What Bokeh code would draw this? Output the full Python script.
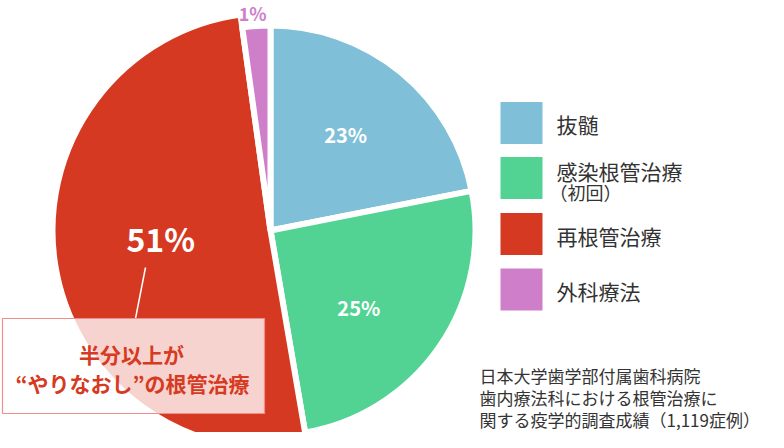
import numpy as np
from bokeh.plotting import figure
from bokeh.models import Range1d, ColumnDataSource
from bokeh.core.properties import value
from bokeh.embed import file_html
from bokeh.resources import INLINE

# ---- data ----
categories = ["抜髄", "感染根管治療", "再根管治療", "外科療法"]
category_sub = ["", "（初回）", "", ""]
shares = [21.9, 25.4, 50.5, 2.2]          # drawn share of the circle (%)
pct_labels = ["23%", "25%", "51%", "1%"]
colors = ["#7fbfd7", "#52d394", "#d63922", "#cf7fca"]
callout_lines = ["半分以上が", "“やりなおし”の根管治療"]
source_lines = ["日本大学歯学部付属歯科病院",
                "歯内療法科における根管治療に",
                "関する疫学的調査成績（1,119症例）"]

FONT = "Noto Sans CJK JP"
W, H = 768, 432


def Y(py):
    """picture pixel y -> data y"""
    return 448 - py


p = figure(width=W, height=H, output_backend="svg", toolbar_location=None,
           x_range=Range1d(0, W), y_range=Range1d(448 - H, 448),
           x_axis_location=None, y_axis_location=None, min_border=0,
           background_fill_color="white", border_fill_color="white")
p.outline_line_color = None
p.grid.visible = False

# ---- pie ----
cx, cy = 270, Y(230)
radii = [205, 205, 218, 205]
cum = np.concatenate([[0], np.cumsum(shares)]) * 3.6
t1, t2 = cum[:-1], cum[1:]
src = ColumnDataSource(dict(
    start=np.radians(90 - t2), end=np.radians(90 - t1), r=radii, color=colors,
))
p.wedge(x=cx, y=cy, radius="r", start_angle="start", end_angle="end",
        direction="anticlock", source=src,
        fill_color="color", line_color="white", line_width=6)

# leader line
p.line(x=[145, 135], y=[Y(267), Y(318)], line_color="white", line_width=1.5)

# callout box
p.quad(left=2, right=264, top=Y(318), bottom=Y(413),
       fill_color="white", fill_alpha=0.78, line_color="#ef8f8c", line_width=1.2)

# percentage labels
label_r = [122, 117, 110, 218]
label_t = np.radians([38, 131, 266, -4.7])
lx = cx + np.array(label_r) * np.sin(label_t)
ly = cy + np.array(label_r) * np.cos(label_t)
lab = ColumnDataSource(dict(
    x=lx, y=ly, text=pct_labels,
    size=["20px", "20px", "32px", "18px"],
    color=["white", "white", "white", colors[3]],
))
p.text(x="x", y="y", text="text", source=lab, text_font=value(FONT),
       text_font_size="size", text_color="color", text_font_style="bold",
       text_align="center", text_baseline="middle")

# callout text
p.text(x=[131, 132], y=[Y(353), Y(382)], text=callout_lines,
       text_font=value(FONT), text_font_size="21px", text_font_style="bold",
       text_color="#d63a22", text_align="center", text_baseline="middle")

# legend
sq_y = [122.5, 177.5, 233.5, 289]
p.rect(x=521, y=[Y(v) for v in sq_y], width=42, height=42,
       fill_color=colors, line_color=None)
txt_y = [123, 170, 235, 290]
p.text(x=556, y=[Y(v) for v in txt_y], text=categories,
       text_font=value(FONT), text_font_size="21px", text_color="#333333",
       text_align="left", text_baseline="middle")
sub_idx = [i for i, s in enumerate(category_sub) if s]
p.text(x=549, y=[Y(191) for _ in sub_idx], text=[category_sub[i] for i in sub_idx],
       text_font=value(FONT), text_font_size="18px", text_color="#333333",
       text_align="left", text_baseline="middle")

# source note
p.text(x=479, y=[Y(375), Y(397), Y(419)], text=source_lines,
       text_font=value(FONT), text_font_size="17px", text_color="#333333",
       text_align="left", text_baseline="middle")

open("out.html", "w").write(file_html(p, INLINE))
